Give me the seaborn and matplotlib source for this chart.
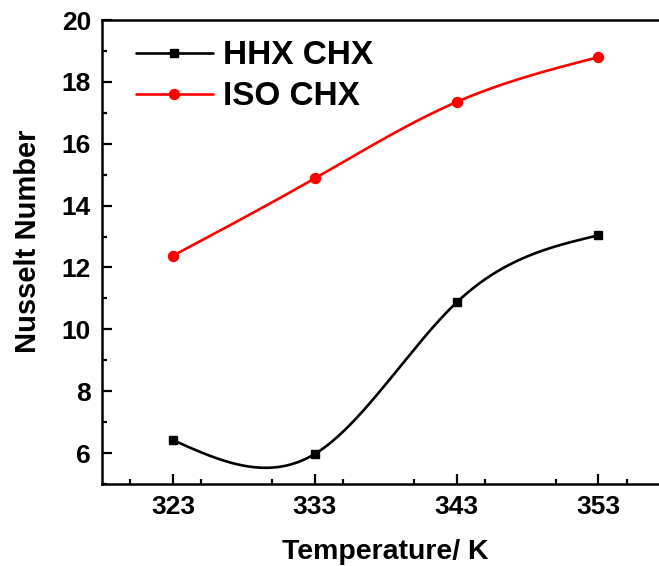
import numpy as np
import pandas as pd
import matplotlib
matplotlib.use("Agg")
import matplotlib.pyplot as plt
from matplotlib.lines import Line2D
from matplotlib.ticker import MultipleLocator
import seaborn as sns

# Measured data
temperature = [323, 333, 343, 353]
hhx_chx = [6.42, 5.97, 10.87, 13.04]
iso_chx = [12.38, 14.88, 17.35, 18.80]
series_names = ["HHX CHX", "ISO CHX"]
x_ticks = [323, 333, 343, 353]
y_ticks = [6, 8, 10, 12, 14, 16, 18, 20]


def natural_spline(x, y, num=300):
    """Natural cubic spline through (x, y), evaluated on a dense grid."""
    x = np.asarray(x, float)
    y = np.asarray(y, float)
    n = len(x)
    h = np.diff(x)
    A = np.zeros((n, n))
    r = np.zeros(n)
    A[0, 0] = A[-1, -1] = 1.0
    for i in range(1, n - 1):
        A[i, i - 1] = h[i - 1]
        A[i, i] = 2 * (h[i - 1] + h[i])
        A[i, i + 1] = h[i]
        r[i] = 6 * ((y[i + 1] - y[i]) / h[i] - (y[i] - y[i - 1]) / h[i - 1])
    M = np.linalg.solve(A, r)
    xs = np.linspace(x[0], x[-1], num)
    idx = np.clip(np.searchsorted(x, xs) - 1, 0, n - 2)
    x0, x1 = x[idx], x[idx + 1]
    hh = x1 - x0
    a = (x1 - xs) / hh
    b = (xs - x0) / hh
    ys = (a * y[idx] + b * y[idx + 1]
          + ((a ** 3 - a) * M[idx] + (b ** 3 - b) * M[idx + 1]) * hh ** 2 / 6)
    return xs, ys


sns.set_style("ticks")
plt.rcParams["font.family"] = ["Liberation Sans", "DejaVu Sans"]
plt.rcParams["font.weight"] = "bold"
plt.rcParams["text.color"] = "black"
plt.rcParams["axes.labelcolor"] = "black"
plt.rcParams["xtick.color"] = "black"
plt.rcParams["ytick.color"] = "black"

fig = plt.figure(figsize=(6.59, 5.66), dpi=100)
ax = fig.add_axes([102 / 659, 82 / 566, 0.861, 464 / 566])

colors = ["black", "red"]
markers = ["s", "o"]
msizes = [6.0, 7.2]
lw = 1.9
handles = []
for name, vals, c, m, ms in zip(series_names, [hhx_chx, iso_chx], colors, markers, msizes):
    xs, ys = natural_spline(temperature, vals)
    sns.lineplot(x=xs, y=ys, ax=ax, color=c, linewidth=lw, sort=False)
    pts = pd.DataFrame({"T": temperature, "Nu": vals})
    ax.plot(pts["T"], pts["Nu"], linestyle="none", marker=m, markersize=ms,
            color=c, markeredgecolor=c, zorder=3)
    handles.append(Line2D([0], [0], color=c, linewidth=lw, marker=m,
                          markersize=ms, label=name))

ax.set_xlim(318, 358)
ax.set_ylim(5, 20)
ax.set_xticks(x_ticks)
ax.set_yticks(y_ticks)
ax.xaxis.set_minor_locator(MultipleLocator(5))
ax.yaxis.set_minor_locator(MultipleLocator(1))
ax.tick_params(which="major", direction="in", length=7.2, width=1.6,
               labelsize=19, pad=8, top=False, right=False, colors="black")
ax.tick_params(which="minor", direction="in", length=3.8, width=1.6,
               top=False, right=False, colors="black")
for lbl in ax.get_xticklabels() + ax.get_yticklabels():
    lbl.set_fontweight("bold")

for side in ["left", "bottom", "top", "right"]:
    ax.spines[side].set_linewidth(1.8)
    ax.spines[side].set_color("black")

ax.set_xlabel("Temperature/ K", fontsize=20.5, fontweight="bold", labelpad=14)
ax.set_ylabel("Nusselt Number", fontsize=21, fontweight="bold")
ax.yaxis.set_label_coords(-0.105, 0.524)

leg = ax.legend(handles=handles, loc="upper left", bbox_to_anchor=(0.06, 0.956),
                frameon=False, fontsize=24, handlelength=2.3, handletextpad=0.3,
                labelspacing=0.3, borderaxespad=0, borderpad=0)
for t in leg.get_texts():
    t.set_fontweight("bold")
    t.set_color("black")

fig.savefig("out.png", dpi=100)
